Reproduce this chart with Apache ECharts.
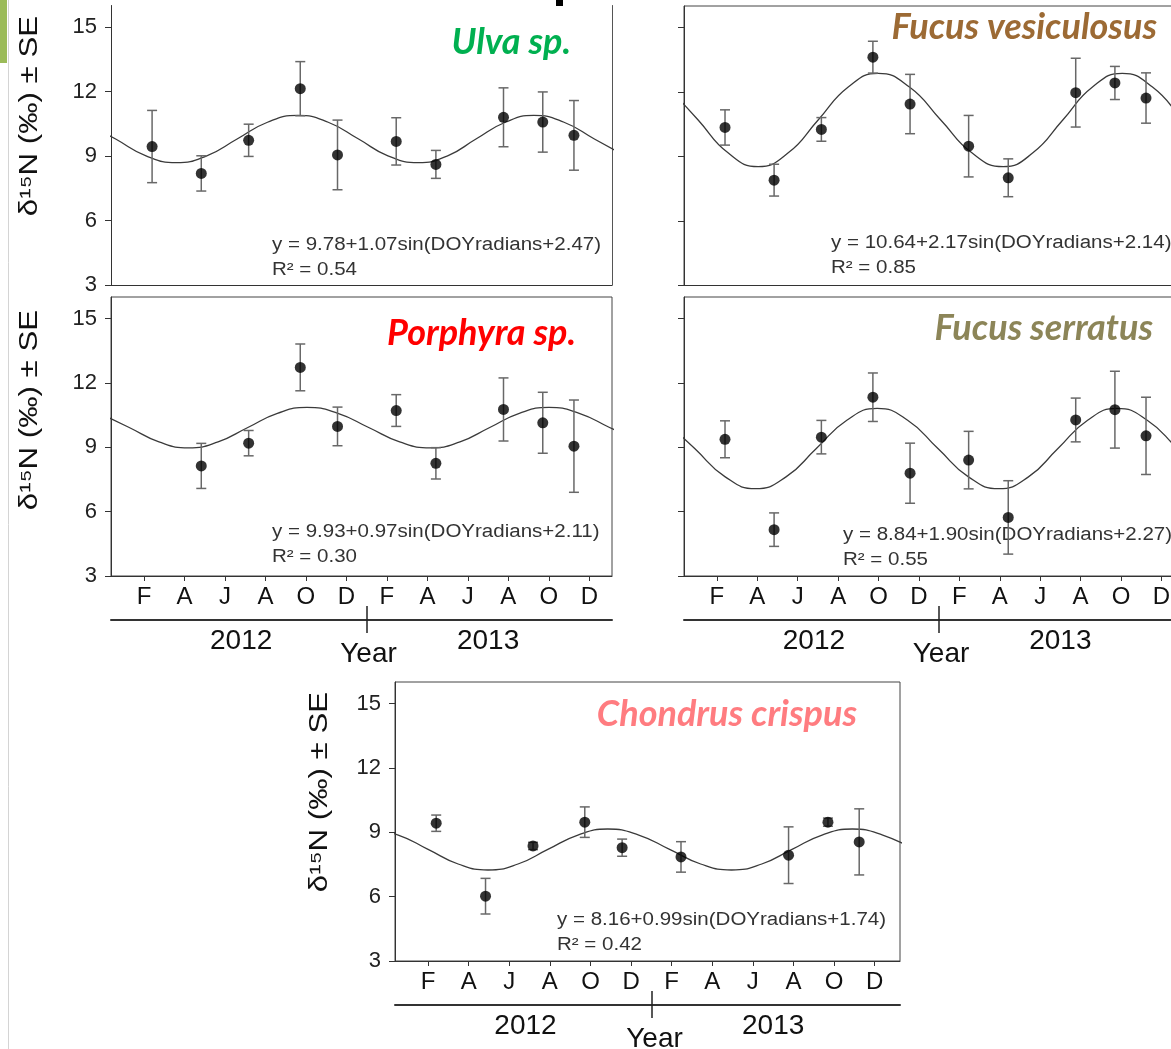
<!DOCTYPE html>
<html><head><meta charset="utf-8">
<script src="https://cdn.jsdelivr.net/npm/echarts@6/dist/echarts.min.js"></script>
<style>html,body{margin:0;padding:0;background:#fff}#c{width:1171px;height:1049px}</style>
</head><body><div id="c"></div>
<script>
// ---------- data ----------
const tickMonths = [2, 4, 6, 8, 10, 12, 14, 16, 18, 20, 22, 24];
const monthLabels = ['F', 'A', 'J', 'A', 'O', 'D', 'F', 'A', 'J', 'A', 'O', 'D'];
const yTicks = [3, 6, 9, 12, 15];
const yearTick = [13];
const yearLabelMonths = [6.8, 19.0];
const yearLabels = ['2012', '2013'];

const sampleMonths = [2.4, 4.83, 7.17, 9.72, 11.56, 14.46, 16.42, 19.76, 21.7, 23.24];

const ulvaMean = [9.44, 8.19, 9.73, 12.13, 9.05, 9.68, 8.61, 10.8, 10.58, 9.96];
const ulvaSE   = [1.68, 0.82, 0.75, 1.26, 1.62, 1.1, 0.65, 1.37, 1.4, 1.62];
const fvesMean = [10.35, 7.9, 10.26, 13.62, 11.44, 9.48, 8.01, 11.97, 12.42, 11.72];
const fvesSE   = [0.82, 0.74, 0.55, 0.74, 1.38, 1.43, 0.88, 1.6, 0.77, 1.17];
const porphMean = [null, 8.13, 9.19, 12.72, 9.97, 10.71, 8.25, 10.76, 10.14, 9.05];
const porphSE   = [null, 1.05, 0.59, 1.09, 0.9, 0.74, 0.73, 1.47, 1.42, 2.15];
const fserMean = [9.37, 5.16, 9.47, 11.33, 7.79, 8.4, 5.73, 10.27, 10.75, 9.53];
const fserSE   = [0.86, 0.78, 0.78, 1.13, 1.4, 1.34, 1.71, 1.02, 1.79, 1.8];
const chonMean = [9.42, 6.02, 8.36, 9.47, 8.28, 7.85, null, 7.93, 9.47, 8.55];
const chonSE   = [0.38, 0.83, 0.17, 0.71, 0.4, 0.71, null, 1.32, 0.19, 1.54];

// fitted curves (month, value)
const ulvaFitX = [-0.9, 0.6, 2.1, 3.6, 5.1, 6.6, 8.1, 9.6, 11.1, 12.6, 14.05, 15.55, 17.0, 18.4, 19.85, 21.25, 22.75, 24.25, 25.75];
const ulvaFitY = [10.57, 9.79, 9.01, 8.69, 9.01, 9.79, 10.57, 10.89, 10.57, 9.79, 9.01, 8.69, 9.01, 9.79, 10.57, 10.89, 10.57, 9.79, 9.01];
const fvesFitX = [-0.42, 1.07, 2.55, 4.04, 5.53, 7.01, 8.5, 9.98, 11.53, 13.08, 14.62, 16.17, 17.64, 19.12, 20.59, 22.06, 23.56, 25.06, 26.56];
const fvesFitY = [12.23, 10.7, 9.17, 8.53, 9.17, 10.7, 12.23, 12.87, 12.23, 10.7, 9.17, 8.53, 9.17, 10.7, 12.23, 12.87, 12.23, 10.7, 9.17];
const porphFitX = [-0.2, 1.27, 2.74, 4.2, 5.66, 7.13, 8.59, 10.05, 11.58, 13.1, 14.63, 16.15, 17.61, 19.08, 20.54, 22.0, 23.5, 25.0, 26.5];
const porphFitY = [10.58, 9.92, 9.25, 8.97, 9.25, 9.92, 10.58, 10.86, 10.58, 9.92, 9.25, 8.97, 9.25, 9.92, 10.58, 10.86, 10.58, 9.92, 9.25];
const fserFitX = [-0.6, 0.9, 2.41, 3.91, 5.42, 6.92, 8.43, 9.93, 11.44, 12.94, 14.45, 15.95, 17.42, 18.88, 20.35, 21.81, 23.3, 24.8, 26.3];
const fserFitY = [10.26, 8.94, 7.62, 7.07, 7.62, 8.94, 10.26, 10.81, 10.26, 8.94, 7.62, 7.07, 7.62, 8.94, 10.26, 10.81, 10.26, 8.94, 7.62];
const chonFitX = [-0.95, 0.53, 2.0, 3.48, 4.95, 6.43, 7.9, 9.38, 10.85, 12.38, 13.9, 15.43, 16.95, 18.44, 19.93, 21.41, 22.9, 24.4, 25.9];
const chonFitY = [9.15, 8.87, 8.2, 7.52, 7.24, 7.52, 8.2, 8.87, 9.15, 8.87, 8.2, 7.52, 7.24, 7.52, 8.2, 8.87, 9.15, 8.87, 8.2];

const species = ['Ulva sp.', 'Fucus vesiculosus', 'Porphyra sp.', 'Fucus serratus', 'Chondrus crispus'];
const equations = [
  'y = 9.78+1.07sin(DOYradians+2.47)',
  'y = 10.64+2.17sin(DOYradians+2.14)',
  'y = 9.93+0.97sin(DOYradians+2.11)',
  'y = 8.84+1.90sin(DOYradians+2.27)',
  'y = 8.16+0.99sin(DOYradians+1.74)'
];
const rSquared = ['R² = 0.54', 'R² = 0.85', 'R² = 0.30', 'R² = 0.55', 'R² = 0.42'];

// ---------- layout / style ----------
const FF = '"Liberation Sans", Arial, sans-serif';
const panels = [
  { grid: {left: 111, top: 5.5, width: 501, height: 279.5}, xMax: 25.12, border: false, xLabels: false, yLabels: true, mean: ulvaMean, se: ulvaSE, fx: ulvaFitX, fy: ulvaFitY,
    title: {x: 571, y: 42, color: '#00b050'}, eq: {x: 272, y: 245}, yname: {x: 30, y: 116} },
  { grid: {left: 684, top: 6, width: 500, height: 279.5}, xMax: 25.12, border: true, xLabels: false, yLabels: false, mean: fvesMean, se: fvesSE, fx: fvesFitX, fy: fvesFitY,
    title: {x: 1157, y: 27, color: '#9c6a34'}, eq: {x: 831, y: 243} },
  { grid: {left: 111, top: 297, width: 501, height: 279}, xMax: 25.12, border: true, xLabels: true, yLabels: true, mean: porphMean, se: porphSE, fx: porphFitX, fy: porphFitY,
    title: {x: 576, y: 333, color: '#ff0000'}, eq: {x: 272, y: 532}, yname: {x: 30, y: 410} },
  { grid: {left: 684, top: 297, width: 500, height: 279}, xMax: 25.12, border: true, xLabels: true, yLabels: false, mean: fserMean, se: fserSE, fx: fserFitX, fy: fserFitY,
    title: {x: 1153, y: 328, color: '#8c8558'}, eq: {x: 843, y: 535} },
  { grid: {left: 395, top: 682, width: 505, height: 279}, xMax: 25.25, border: true, xLabels: true, yLabels: true, mean: chonMean, se: chonSE, fx: chonFitX, fy: chonFitY,
    title: {x: 857, y: 714, color: '#ff7c80'}, eq: {x: 557, y: 920}, yname: {x: 320, y: 792} }
];

function renderErr(params, api) {
  const x = api.value(0);
  const lo = api.coord([x, api.value(1)]);
  const hi = api.coord([x, api.value(2)]);
  const w = 5;
  const st = {stroke: '#686868', lineWidth: 1.5};
  return {type: 'group', children: [
    {type: 'line', shape: {x1: lo[0], y1: lo[1], x2: hi[0], y2: hi[1]}, style: st},
    {type: 'line', shape: {x1: hi[0] - w, y1: hi[1], x2: hi[0] + w, y2: hi[1]}, style: st},
    {type: 'line', shape: {x1: lo[0] - w, y1: lo[1], x2: lo[0] + w, y2: lo[1]}, style: st}
  ]};
}

const grids = [], xAxes = [], yAxes = [], series = [], graphics = [];

panels.forEach((p, i) => {
  grids.push(Object.assign({show: p.border, borderColor: '#444', borderWidth: 1, backgroundColor: 'transparent',
    containLabel: false, outerBoundsMode: 'none'}, p.grid));
  xAxes.push({
    gridIndex: i, type: 'value', min: 0.37, max: p.xMax, position: 'bottom',
    axisLine: {show: true, onZero: false, lineStyle: {color: '#333', width: 1}},
    axisTick: {show: p.xLabels, customValues: tickMonths, length: 5, lineStyle: {color: '#333'}},
    axisLabel: {show: p.xLabels, customValues: tickMonths, fontSize: 24, fontFamily: FF, color: '#111', margin: 9,
      formatter: v => { const k = tickMonths.indexOf(v); return k >= 0 ? monthLabels[k] : ''; }},
    splitLine: {show: false}
  });
  yAxes.push({
    gridIndex: i, type: 'value', min: 3, max: 16, position: 'left',
    axisLine: {show: true, onZero: false, lineStyle: {color: '#333', width: 1}},
    axisTick: {show: true, customValues: yTicks, length: 6, lineStyle: {color: '#333'}},
    axisLabel: {show: p.yLabels, customValues: yTicks, fontSize: 22, fontFamily: FF, color: '#222', margin: 14},
    splitLine: {show: false}
  });
});

// extra axes: year axis for the lower panels, right frame for the first panel
panels.forEach((p, i) => {
  if (!p.xLabels) return;
  xAxes.push({
    gridIndex: i, type: 'value', min: 0.37, max: p.xMax, position: 'bottom', offset: 44,
    axisLine: {show: true, onZero: false, lineStyle: {color: '#333', width: 2}},
    axisTick: {show: true, customValues: yearTick, length: 13, lineStyle: {color: '#222', width: 1.5}},
    axisLabel: {show: true, customValues: yearLabelMonths, fontSize: 28, fontFamily: FF, color: '#111', margin: 7,
      formatter: v => { const k = yearLabelMonths.indexOf(v); return k >= 0 ? yearLabels[k] : ''; }},
    splitLine: {show: false},
    name: 'Year', nameLocation: 'middle', nameGap: 20, nameMoveOverlap: false,
    nameTextStyle: {fontSize: 28, fontFamily: FF, color: '#111', padding: [0, 0, 0, 14]}
  });
  xAxes.push({
    gridIndex: i, type: 'value', min: 0.37, max: p.xMax, position: 'bottom', offset: 44,
    axisLine: {show: false},
    axisTick: {show: true, inside: true, customValues: yearTick, length: 14, lineStyle: {color: '#222', width: 1.5}},
    axisLabel: {show: false}, splitLine: {show: false}
  });
});
yAxes.push({
  gridIndex: 0, type: 'value', min: 3, max: 16, position: 'right',
  axisLine: {show: true, onZero: false, lineStyle: {color: '#555', width: 1}},
  axisTick: {show: false}, axisLabel: {show: false}, splitLine: {show: false}
});

panels.forEach((p, i) => {
  series.push({
    type: 'line', xAxisIndex: i, yAxisIndex: i, silent: true, smooth: 0.5, symbol: 'none',
    data: p.fx.map((x, k) => [x, p.fy[k]]), lineStyle: {color: '#3a3a3a', width: 1.3}, z: 2
  });
  const err = [], pts = [];
  sampleMonths.forEach((m, k) => {
    if (p.mean[k] == null) return;
    err.push([m, p.mean[k] - p.se[k], p.mean[k] + p.se[k]]);
    pts.push([m, p.mean[k]]);
  });
  series.push({type: 'custom', xAxisIndex: i, yAxisIndex: i, silent: true, renderItem: renderErr, data: err, z: 3});
  series.push({type: 'scatter', xAxisIndex: i, yAxisIndex: i, silent: true, symbolSize: 11, itemStyle: {color: '#000'}, data: pts, z: 4});

  graphics.push({type: 'text', x: p.title.x, y: p.title.y, style: {
    text: species[i], fontFamily: 'Lato, "Open Sans", sans-serif', fontWeight: 'bold', fontStyle: 'italic', fontSize: 36,
    fill: p.title.color, align: 'right', verticalAlign: 'middle', textAlign: 'right', textVerticalAlign: 'middle'}});
  graphics.push({type: 'text', x: p.eq.x, y: p.eq.y, scaleX: 1.14, style: {
    text: equations[i], fontFamily: FF, fontSize: 18, fill: '#333', align: 'left', verticalAlign: 'middle', textAlign: 'left', textVerticalAlign: 'middle'}});
  graphics.push({type: 'text', x: p.eq.x, y: p.eq.y + 25, scaleX: 1.14, style: {
    text: rSquared[i], fontFamily: FF, fontSize: 18, fill: '#333', align: 'left', verticalAlign: 'middle', textAlign: 'left', textVerticalAlign: 'middle'}});
  if (p.yname) {
    graphics.push({type: 'text', x: p.yname.x, y: p.yname.y, rotation: Math.PI / 2, scaleX: 1.25, style: {
      text: 'δ¹⁵N (‰) ± SE', fontFamily: FF, fontSize: 25, fill: '#111', align: 'center', verticalAlign: 'middle', textAlign: 'center', textVerticalAlign: 'middle'}});
  }
});

// page decorations
graphics.push({type: 'rect', shape: {x: 0, y: 0, width: 7, height: 63}, style: {fill: '#9bbb59'}});
graphics.push({type: 'line', shape: {x1: 8.5, y1: 0, x2: 8.5, y2: 1049}, style: {stroke: '#d4d4d4', lineWidth: 1}});
graphics.push({type: 'rect', shape: {x: 556, y: 0, width: 7, height: 6}, style: {fill: '#000'}});

const chart = echarts.init(document.getElementById('c'), null, {renderer: 'canvas'});
chart.setOption({
  animation: false,
  backgroundColor: '#fff',
  grid: grids, xAxis: xAxes, yAxis: yAxes, series: series, graphic: graphics
});
</script></body></html>
